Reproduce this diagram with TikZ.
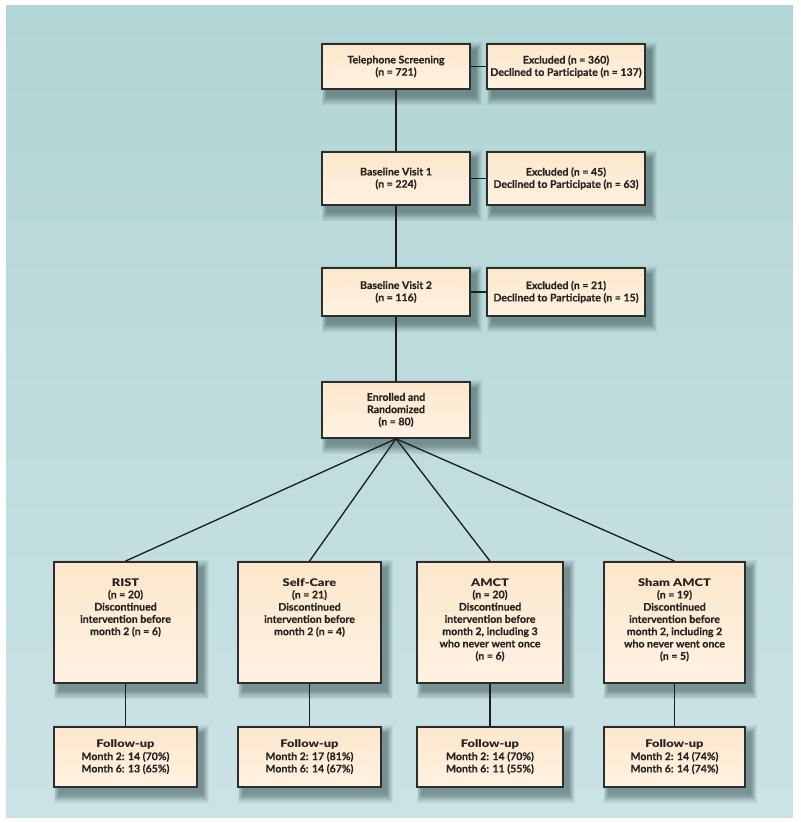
\documentclass[tikz,border=0pt]{standalone}
\usepackage{fontspec}
\setmainfont{Lato}[BoldFeatures={FakeBold=0.35}]
\newfontfamily\heavyfont{Lato Black}[BoldFont={Lato Black}, FakeStretch=1.22]
\usetikzlibrary{backgrounds}
\definecolor{bgtop}{RGB}{178,213,213}
\definecolor{bgbot}{RGB}{203,227,230}
\definecolor{boxtop}{RGB}{252,231,203}
\definecolor{boxbot}{RGB}{255,242,226}
\definecolor{edge}{RGB}{45,45,45}
\definecolor{wire}{RGB}{30,30,30}
\definecolor{ink}{RGB}{40,34,34}
\tikzset{
  box/.style={draw=edge, line width=1.1pt, top color=boxtop, bottom color=boxbot, text=ink,
    inner sep=0pt, align=center, font=\fontsize{7.9}{9.2}\selectfont\bfseries},
  lbl/.style={inner sep=0pt, align=center, text=ink, font=\fontsize{7.9}{9.2}\selectfont\bfseries, anchor=north},
  wire/.style={draw=wire, line width=1pt},
  shd/.style={fill=black!80!teal, opacity=0.06}
}
\begin{document}
\begin{tikzpicture}[x=0.75pt, y=-0.75pt]
\useasboundingbox (0,0) rectangle (800,823);
% top column
\node[box, minimum width=111pt, minimum height=33.75pt] (tel) at (396,66.5) {Telephone Screening\\(n = 721)};
\node[box, minimum width=118.5pt, minimum height=33.75pt] (ex1) at (566,66.5) {Excluded (n = 360)\\Declined to Participate (n = 137)};
\node[box, minimum width=111pt, minimum height=39.75pt] (bv1) at (396,178.5) {Baseline Visit 1\\(n = 224)};
\node[box, minimum width=118.5pt, minimum height=39.75pt] (ex2) at (566,178.5) {Excluded (n = 45)\\Declined to Participate (n = 63)};
\node[box, minimum width=111pt, minimum height=36pt] (bv2) at (396,292) {Baseline Visit 2\\(n = 116)};
\node[box, minimum width=118.5pt, minimum height=36pt] (ex3) at (566,292) {Excluded (n = 21)\\Declined to Participate (n = 15)};
\node[box, minimum width=111pt, minimum height=42pt] (enr) at (396,410) {Enrolled and\\Randomized\\(n = 80)};
% groups
\node[box, minimum width=107pt, minimum height=91pt] (rist) at (125.5,622.5) {};
\node[box, minimum width=107pt, minimum height=91pt] (self) at (309.5,622.5) {};
\node[box, minimum width=109.5pt, minimum height=91pt] (amct) at (490,622.5) {};
\node[box, minimum width=106pt, minimum height=91pt] (sham) at (674.5,622.5) {};
\node[lbl] (ristt) at (125.5,578) {{\heavyfont RIST}\\(n = 20)\\Discontinued\\intervention before\\month 2 (n = 6)};
\node[lbl] (selft) at (309.5,578) {{\heavyfont Self-Care}\\(n = 21)\\Discontinued\\intervention before\\month 2 (n = 4)};
\node[lbl] (amctt) at (490,578) {{\heavyfont AMCT}\\(n = 20)\\Discontinued\\intervention before\\month 2, including 3\\who never went once\\(n = 6)};
\node[lbl] (shamt) at (674.5,578) {{\heavyfont Sham AMCT}\\(n = 19)\\Discontinued\\intervention before\\month 2, including 2\\who never went once\\(n = 5)};
% follow-up
\node[box, minimum width=107pt, minimum height=45pt] (ristf) at (125.5,757) {{\heavyfont Follow-up}\\Month 2: 14 (70\%)\\Month 6: 13 (65\%)};
\node[box, minimum width=107pt, minimum height=45pt] (selff) at (309.5,757) {{\heavyfont Follow-up}\\Month 2: 17 (81\%)\\Month 6: 14 (67\%)};
\node[box, minimum width=109.5pt, minimum height=45pt] (amctf) at (490,757) {{\heavyfont Follow-up}\\Month 2: 14 (70\%)\\Month 6: 11 (55\%)};
\node[box, minimum width=106pt, minimum height=45pt] (shamf) at (674.5,757) {{\heavyfont Follow-up}\\Month 2: 14 (74\%)\\Month 6: 14 (74\%)};
% background and shadows
\begin{scope}[on background layer]
\fill[white] (0,0) rectangle (800,823);
\shade[top color=bgtop, bottom color=bgbot] (6,6) rectangle (793,817);
\foreach \n in {tel,ex1,bv1,ex2,bv2,ex3,enr,rist,self,amct,sham,ristf,selff,amctf,shamf}{
  \foreach \k in {0,1,...,7}{
    \fill[shd] ([xshift=4pt-0.5*\k pt, yshift=-5pt+0.8*\k pt]\n.north west)
      rectangle ([xshift=4pt+0.6*\k pt, yshift=-5pt-0.9*\k pt]\n.south east);
  }
}
\end{scope}
% connectors
\draw[wire] (tel) -- (bv1);
\draw[wire] (bv1) -- (bv2);
\draw[wire] (bv2) -- (enr);
\draw[wire] (tel) -- (ex1);
\draw[wire] (bv1) -- (ex2);
\draw[wire] (bv2) -- (ex3);
\foreach \g in {rist,self,amct,sham}{
  \draw[wire] (enr.south) -- (\g.north);
  \draw[wire] (\g) -- (\g f);
}
\end{tikzpicture}
\end{document}
